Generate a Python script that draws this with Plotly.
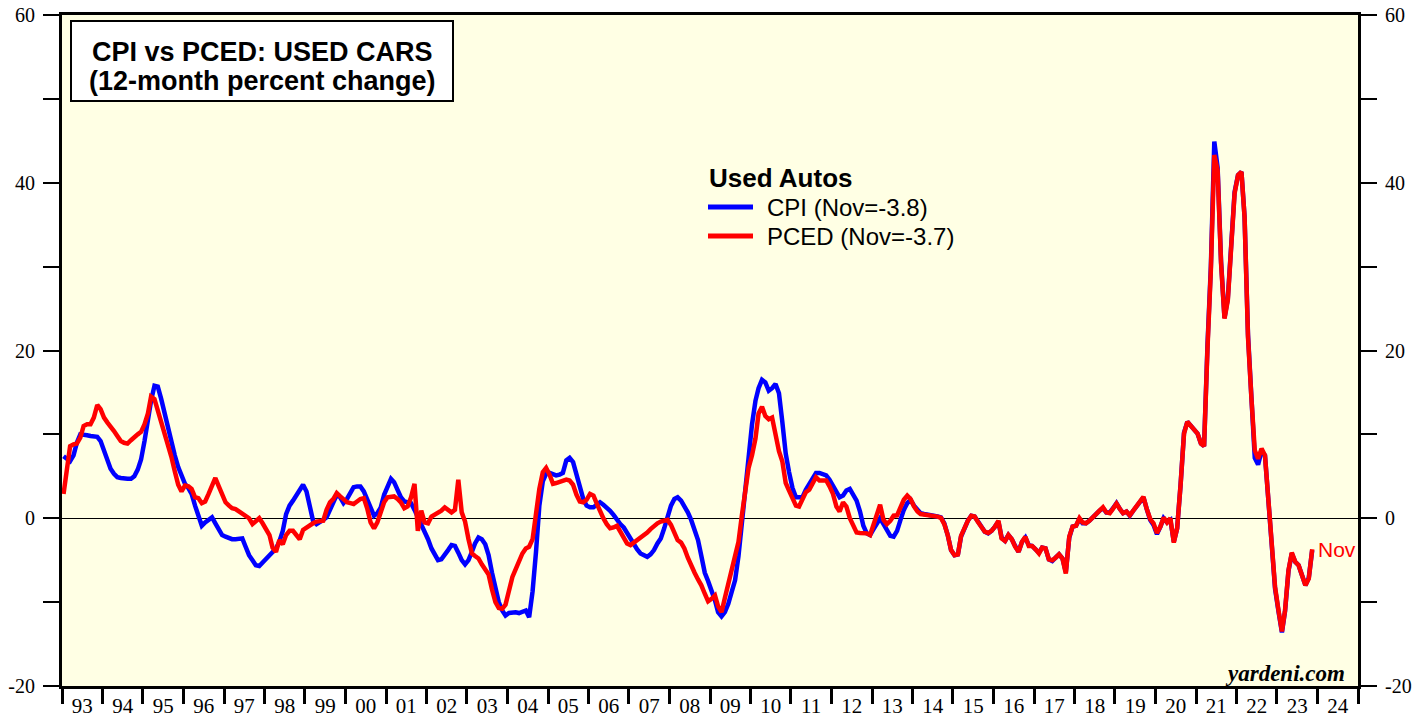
import pandas as pd
import plotly.graph_objects as go

# ---------------- data (12-month % change, monthly, Jan 1993 - Nov 2023) ----------------
cpi_1993 = [7.4, 7.0, 6.8, 7.5, 9.0, 10.0, 10.0, 9.9, 9.8, 9.7, 9.7, 9.2]
cpi_1994 = [8.1, 6.8, 5.9, 5.3, 4.9, 4.8, 4.7, 4.7, 4.7, 5.0, 5.8, 7.0]
cpi_1995 = [9.2, 12.0, 14.0, 15.8, 15.7, 14.2, 12.4, 10.6, 8.9, 7.5, 6.1, 5.0]
cpi_1996 = [4.1, 3.6, 2.9, 1.5, 0.1, -0.9, -0.5, -0.2, 0.1, -0.6, -1.3, -2.0]
cpi_1997 = [-2.2, -2.4, -2.5, -2.5, -2.5, -2.4, -3.4, -4.4, -5.0, -5.6, -5.7, -5.3]
cpi_1998 = [-4.9, -4.5, -4.1, -3.6, -2.8, -1.5, 0.5, 1.5, 2.1, 2.8, 3.5, 4.0]
cpi_1999 = [3.2, 1.2, -0.3, -0.7, -0.5, -0.2, 0.1, 1.0, 1.8, 2.8, 2.5, 1.8]
cpi_2000 = [2.3, 3.0, 3.7, 3.8, 3.8, 3.2, 2.2, 1.0, 0.3, 0.6, 1.3, 2.8]
cpi_2001 = [3.8, 4.7, 4.3, 3.5, 2.5, 2.0, 1.9, 1.8, 1.0, 0.2, -0.6, -1.5]
cpi_2002 = [-2.5, -3.6, -4.4, -5.0, -4.9, -4.4, -3.8, -3.2, -3.3, -4.1, -5.0, -5.5]
cpi_2003 = [-5.0, -4.0, -3.0, -2.3, -2.5, -3.1, -4.4, -6.5, -8.5, -10.0, -11.0, -11.6]
cpi_2004 = [-11.3, -11.2, -11.2, -11.3, -11.2, -11.0, -11.8, -8.7, -4.0, 1.5, 4.4, 5.3]
cpi_2005 = [5.4, 5.2, 5.1, 5.2, 5.4, 6.9, 7.2, 6.7, 5.2, 3.5, 2.3, 1.5]
cpi_2006 = [1.3, 1.3, 1.6, 1.9, 1.6, 1.3, 0.9, 0.4, -0.2, -0.7, -1.1, -1.8]
cpi_2007 = [-2.5, -3.1, -3.7, -4.2, -4.4, -4.6, -4.3, -3.8, -3.0, -2.4, -1.2, 0.0]
cpi_2008 = [1.5, 2.3, 2.5, 2.1, 1.5, 0.7, -0.2, -1.3, -2.6, -4.5, -6.5, -7.5]
cpi_2009 = [-8.5, -9.8, -11.2, -11.7, -11.2, -10.2, -8.8, -7.4, -4.5, -0.5, 3.8, 7.8]
cpi_2010 = [11.2, 14.0, 15.5, 16.5, 16.2, 15.2, 15.5, 16.0, 14.9, 11.5, 7.7, 5.5]
cpi_2011 = [3.6, 2.5, 2.5, 2.5, 3.4, 4.1, 4.8, 5.4, 5.4, 5.3, 5.1, 4.6]
cpi_2012 = [3.8, 3.0, 2.5, 2.7, 3.3, 3.5, 2.8, 2.1, 0.8, -0.9, -1.8, -2.0]
cpi_2013 = [-1.3, -0.6, 0.0, -0.7, -1.5, -2.1, -2.2, -1.5, -0.2, 1.0, 1.8, 2.2]
cpi_2014 = [1.5, 1.0, 0.6, 0.5, 0.45, 0.4, 0.3, 0.2, 0.1, -0.6, -2.0, -3.8]
cpi_2015 = [-4.4, -4.3, -2.2, -1.1, -0.3, 0.3, 0.2, -0.4, -1.0, -1.6, -1.8, -1.5]
cpi_2016 = [-1.0, -0.4, -2.3, -2.7, -2.0, -2.5, -3.3, -4.0, -2.8, -2.3, -3.2, -3.3]
cpi_2017 = [-3.7, -4.1, -3.5, -3.6, -4.9, -5.1, -4.7, -4.3, -4.8, -6.4, -2.3, -1.0]
cpi_2018 = [-0.9, -0.1, -0.6, -0.6, -0.3, 0.2, 0.5, 0.9, 1.2, 0.7, 0.7, 1.2]
cpi_2019 = [1.8, 1.1, 0.6, 0.8, 0.3, 0.9, 1.5, 2.1, 2.5, 1.1, -0.2, -0.8]
cpi_2020 = [-1.9, -1.0, 0.0, -0.5, -0.2, -2.8, -1.2, 4.0, 10.2, 11.5, 11.0, 10.5]
cpi_2021 = [10.1, 8.9, 8.6, 20.8, 30.0, 44.9, 41.8, 30.6, 23.9, 26.2, 33.6, 38.9]
cpi_2022 = [40.9, 41.3, 35.9, 21.9, 14.6, 7.2, 6.4, 8.0, 7.5, 2.5, -2.4, -8.4]
cpi_2023 = [-11.1, -13.6, -11.1, -6.3, -4.2, -5.2, -5.6, -6.8, -8.0, -7.1, -3.8]

pced_1993 = [2.9, 6.0, 8.6, 8.8, 8.9, 9.6, 11.0, 11.2, 11.2, 12.0, 13.5, 13.0]
pced_1994 = [12.0, 11.4, 11.0, 10.4, 9.8, 9.2, 9.0, 8.9, 9.3, 9.7, 10.0, 10.3]
pced_1995 = [11.2, 12.5, 14.5, 14.2, 12.8, 11.6, 10.4, 8.8, 7.3, 5.6, 4.0, 3.2]
pced_1996 = [3.9, 3.8, 3.5, 2.5, 2.4, 1.8, 2.0, 2.9, 4.0, 4.8, 3.8, 2.8]
pced_1997 = [1.9, 1.5, 1.2, 1.1, 0.8, 0.5, 0.3, 0.0, -0.7, -0.3, 0.0, -0.6]
pced_1998 = [-1.4, -2.0, -3.5, -4.0, -2.6, -3.1, -2.0, -1.5, -1.5, -2.0, -2.5, -1.4]
pced_1999 = [-1.1, -0.9, -0.6, -0.4, -0.3, -0.3, 1.0, 1.9, 2.3, 3.0, 2.6, 2.2]
pced_2000 = [1.9, 1.8, 1.7, 2.0, 2.3, 2.4, 1.2, -0.5, -1.2, -0.5, 0.6, 1.9]
pced_2001 = [2.5, 2.6, 2.6, 2.3, 1.9, 1.2, 1.4, 2.5, 4.1, -1.5, 0.9, -0.5]
pced_2002 = [-0.6, 0.2, 0.4, 0.6, 0.9, 1.3, 1.0, 0.7, 1.0, 4.6, 0.7, -0.4]
pced_2003 = [-2.5, -4.2, -4.5, -4.8, -5.5, -6.2, -6.7, -8.5, -10.0, -10.7, -10.8, -10.3]
pced_2004 = [-8.5, -7.0, -6.1, -5.0, -4.2, -3.6, -3.4, -2.5, 1.0, 3.5, 5.5, 6.0]
pced_2005 = [5.2, 4.1, 4.2, 4.3, 4.4, 4.6, 4.5, 4.0, 2.8, 2.0, 1.9, 2.2]
pced_2006 = [2.9, 2.7, 1.8, 0.8, 0.0, -0.7, -1.2, -1.1, -0.9, -1.6, -2.3, -3.0]
pced_2007 = [-3.2, -2.9, -2.7, -2.4, -2.0, -1.7, -1.3, -0.9, -0.6, -0.4, -0.3, -0.2]
pced_2008 = [-0.8, -1.8, -2.6, -2.9, -3.6, -4.7, -5.7, -6.5, -7.3, -8.0, -9.0, -9.9]
pced_2009 = [-9.6, -9.2, -10.5, -11.2, -9.5, -7.8, -6.5, -4.5, -2.8, 0.3, 3.5, 6.0]
pced_2010 = [7.5, 9.5, 12.5, 13.3, 12.2, 11.8, 12.0, 9.8, 8.0, 6.8, 4.2, 3.3]
pced_2011 = [2.3, 1.5, 1.4, 2.3, 3.1, 3.4, 4.3, 4.9, 4.5, 4.5, 4.5, 3.8]
pced_2012 = [2.9, 1.4, 0.8, 1.9, 1.4, 0.0, -1.0, -1.7, -1.75, -1.75, -1.8, -2.0]
pced_2013 = [-0.8, 0.5, 1.6, -0.2, -0.7, -0.3, 0.3, 0.35, 1.3, 2.2, 2.7, 2.3]
pced_2014 = [1.4, 0.8, 0.5, 0.45, 0.4, 0.35, 0.3, 0.2, 0.05, -0.7, -2.0, -3.8]
pced_2015 = [-4.4, -4.3, -2.1, -1.1, -0.3, 0.3, 0.2, -0.45, -1.0, -1.6, -1.75, -1.5]
pced_2016 = [-1.0, -0.3, -2.4, -2.7, -2.0, -2.5, -3.4, -4.0, -2.8, -2.2, -3.3, -3.3]
pced_2017 = [-3.7, -4.2, -3.5, -3.6, -4.9, -5.0, -4.7, -4.3, -4.8, -6.6, -2.2, -1.0]
pced_2018 = [-0.9, 0.0, -0.5, -0.6, -0.3, 0.2, 0.5, 0.9, 1.3, 0.7, 0.6, 1.15]
pced_2019 = [1.75, 1.1, 0.6, 0.8, 0.35, 0.9, 1.5, 2.1, 2.55, 1.1, -0.1, -0.6]
pced_2020 = [-1.75, -1.0, 0.1, -0.5, 0.0, -2.9, -1.2, 4.0, 10.1, 11.5, 11.0, 10.5]
pced_2021 = [10.1, 8.9, 8.6, 20.4, 29.6, 43.3, 41.5, 30.4, 23.8, 26.0, 33.5, 38.7]
pced_2022 = [40.9, 41.3, 35.9, 21.6, 14.5, 8.1, 7.1, 8.3, 7.5, 2.5, -2.2, -8.2]
pced_2023 = [-11.0, -13.5, -11.0, -6.2, -4.1, -5.2, -5.6, -6.8, -8.0, -7.2, -3.7]

years = list(range(1993, 2024))
cpi = sum([globals()[f"cpi_{y}"] for y in years], [])
pced = sum([globals()[f"pced_{y}"] for y in years], [])
dates = pd.date_range("1993-01-01", periods=len(cpi), freq="MS") + pd.Timedelta(days=14)

title_lines = ["CPI vs PCED: USED CARS", "(12-month percent change)"]
legend_title = "Used Autos"
cpi_label = "CPI (Nov=-3.8)"
pced_label = "PCED (Nov=-3.7)"
y_ticks = [-20, -10, 0, 10, 20, 30, 40, 50, 60]
y_ticktext = ["-20", "", "0", "", "20", "", "40", "", "60"]

BLUE = "#0000FF"
RED = "#FF0000"
BG = "#FFFFE4"
SERIF = "Liberation Serif"
SANS = "Liberation Sans"

# ---------------- figure ----------------
fig = go.Figure()
fig.add_trace(go.Scatter(x=dates, y=cpi, mode="lines", line=dict(color=BLUE, width=4.5),
                         name=cpi_label, showlegend=False, hoverinfo="skip"))
fig.add_trace(go.Scatter(x=dates, y=pced, mode="lines", line=dict(color=RED, width=4.5),
                         name=pced_label, showlegend=False, hoverinfo="skip"))
# anchor trace for right-hand axis
fig.add_trace(go.Scatter(x=[dates[0]], y=[0], yaxis="y2", mode="markers",
                         marker=dict(opacity=0), showlegend=False, hoverinfo="skip"))

L, R, T, B = 62, 64, 15, 31
W, H = 1422, 717
pw, ph = W - L - R, H - T - B


def px(xp):
    return (xp - L) / pw


def py(yp):
    return (H - B - yp) / ph


fig.update_layout(
    width=W, height=H,
    margin=dict(l=L, r=R, t=T, b=B, pad=0, autoexpand=False),
    paper_bgcolor="white",
    plot_bgcolor=BG,
    showlegend=False,
    xaxis=dict(
        type="date",
        range=["1993-01-01", "2025-01-01"],
        dtick="M12", tick0="1993-01-01",
        ticklabelmode="period", tickformat="%y",
        ticks="outside", ticklen=15, tickwidth=3, tickcolor="black",
        showline=True, linewidth=3, linecolor="black", mirror=True,
        showgrid=False, zeroline=False, automargin=False,
        tickfont=dict(family=SERIF, size=21, color="black"),
        ticklabelstandoff=-16,
    ),
    yaxis=dict(
        range=[-20, 60], tickvals=y_ticks, ticktext=y_ticktext,
        ticks="outside", ticklen=16, tickwidth=1.5, tickcolor="black",
        showline=True, linewidth=3, linecolor="black",
        showgrid=False, zeroline=True, zerolinecolor="black", zerolinewidth=1,
        automargin=False,
        tickfont=dict(family=SERIF, size=20, color="black"),
        ticklabelstandoff=4,
    ),
    yaxis2=dict(
        range=[-20, 60], tickvals=y_ticks, ticktext=y_ticktext,
        overlaying="y", side="right",
        ticks="outside", ticklen=16, tickwidth=1.5, tickcolor="black",
        showline=True, linewidth=3, linecolor="black",
        showgrid=False, zeroline=False, automargin=False,
        tickfont=dict(family=SERIF, size=20, color="black"),
        ticklabelstandoff=4,
    ),
)

# title box
fig.add_shape(type="rect", xref="paper", yref="paper",
              x0=px(71), x1=px(453), y0=py(101), y1=py(21),
              fillcolor="white", line=dict(color="black", width=2))
fig.add_annotation(xref="paper", yref="paper", x=px(262), y=py(52), text=f"<b>{title_lines[0]}</b>",
                   showarrow=False, xanchor="center", yanchor="middle",
                   font=dict(family=SANS, size=27, color="black"))
fig.add_annotation(xref="paper", yref="paper", x=px(262), y=py(81), text=f"<b>{title_lines[1]}</b>",
                   showarrow=False, xanchor="center", yanchor="middle",
                   font=dict(family=SANS, size=27, color="black"))

# legend
fig.add_annotation(xref="paper", yref="paper", x=px(707), y=py(178), text=f"<b>{legend_title}</b>",
                   showarrow=False, xanchor="left", yanchor="middle",
                   font=dict(family=SANS, size=26, color="black"))
for label, color, yy in [(cpi_label, BLUE, 207), (pced_label, RED, 236)]:
    fig.add_shape(type="line", xref="paper", yref="paper",
                  x0=px(708), x1=px(753), y0=py(yy), y1=py(yy),
                  line=dict(color=color, width=5))
    fig.add_annotation(xref="paper", yref="paper", x=px(765), y=py(yy), text=label,
                       showarrow=False, xanchor="left", yanchor="middle",
                       font=dict(family=SANS, size=24, color="black"))

# end label
fig.add_annotation(x=dates[-1], y=pced[-1], text="Nov", showarrow=False,
                   xanchor="left", yanchor="middle", xshift=4,
                   font=dict(family=SANS, size=21, color=RED))

# source
fig.add_annotation(xref="paper", yref="paper", x=px(1347), y=py(673), text="<b><i>yardeni.com</i></b>",
                   showarrow=False, xanchor="right", yanchor="middle",
                   font=dict(family=SERIF, size=23, color="black"))

fig.write_html("out.html", config={"displayModeBar": False},
               post_script="document.body.style.margin='0px';")
